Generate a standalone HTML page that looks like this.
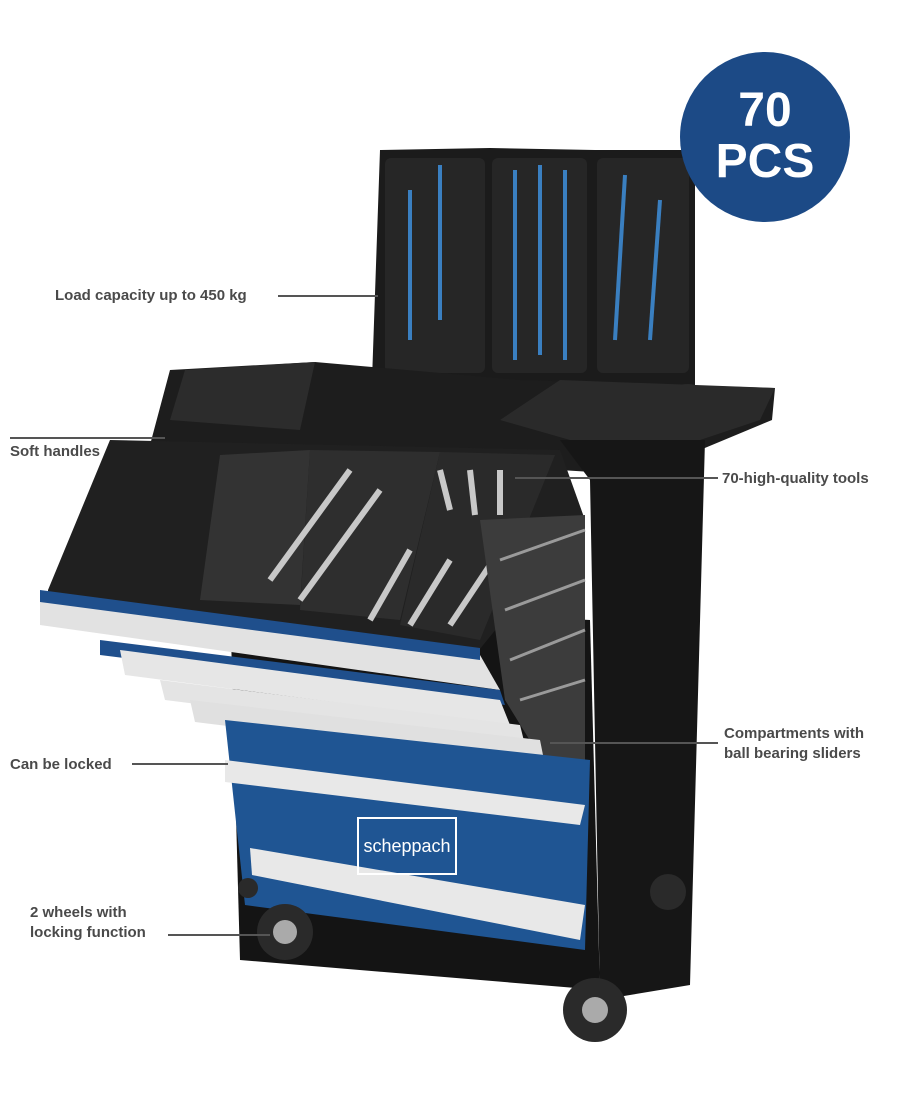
<!DOCTYPE html>
<html><head><meta charset="utf-8"><style>
html,body{margin:0;padding:0;background:#fff;}
body{width:900px;height:1100px;position:relative;overflow:hidden;font-family:"Liberation Sans",sans-serif;}
.l{position:absolute;font-size:15px;font-weight:bold;color:#4a4a4a;line-height:20px;white-space:nowrap;}
</style></head><body>
<svg width="900" height="1100" style="position:absolute;left:0;top:0">
<polygon points="380,150 490,148 595,150 695,150 695,385 372,380" fill="#1b1b1b"/>
<rect x="385" y="158" width="100" height="215" rx="6" fill="#262626"/>
<rect x="492" y="158" width="95" height="215" rx="6" fill="#262626"/>
<rect x="597" y="158" width="92" height="215" rx="6" fill="#262626"/>
<g stroke="#3a7fc0" stroke-width="4">
<line x1="440" y1="165" x2="440" y2="320"/><line x1="410" y1="190" x2="410" y2="340"/>
<line x1="515" y1="170" x2="515" y2="360"/><line x1="540" y1="165" x2="540" y2="355"/><line x1="565" y1="170" x2="565" y2="360"/>
<line x1="625" y1="175" x2="615" y2="340"/><line x1="660" y1="200" x2="650" y2="340"/>
</g>
<circle cx="765" cy="137" r="85" fill="#1c4a86"/>
<text x="765" y="126" fill="#fff" font-family="Liberation Sans" font-weight="bold" font-size="48" text-anchor="middle">70</text>
<text x="765" y="177" fill="#fff" font-family="Liberation Sans" font-weight="bold" font-size="48" text-anchor="middle">PCS</text>
<polygon points="150,445 170,370 315,362 520,380 775,388 772,420 640,475 560,470 165,470" fill="#1d1d1d"/>
<polygon points="170,420 185,370 315,362 300,430" fill="#2c2c2c"/>
<polygon points="500,420 560,380 775,388 760,420 640,460" fill="#2a2a2a"/>
<polygon points="560,440 705,440 690,985 600,1000 590,480" fill="#161616"/>
<polygon points="230,600 590,620 600,990 240,960" fill="#141414"/>
<polygon points="48,590 110,440 560,450 585,520 475,655 48,605" fill="#202020"/>
<polygon points="220,455 310,450 300,605 200,600" fill="#333"/>
<polygon points="310,450 440,452 400,620 300,610" fill="#2e2e2e"/>
<polygon points="440,452 555,455 480,640 400,625" fill="#2a2a2a"/>
<g stroke="#c8c8c8" stroke-width="6">
<line x1="270" y1="580" x2="350" y2="470"/><line x1="300" y1="600" x2="380" y2="490"/>
<line x1="370" y1="620" x2="410" y2="550"/><line x1="410" y1="625" x2="450" y2="560"/><line x1="450" y1="625" x2="490" y2="565"/>
<line x1="440" y1="470" x2="450" y2="510"/><line x1="470" y1="470" x2="475" y2="515"/><line x1="500" y1="470" x2="500" y2="515"/>
</g>
<polygon points="480,520 585,515 585,760 545,765 505,700" fill="#3c3c3c"/>
<g stroke="#9a9a9a" stroke-width="3">
<line x1="500" y1="560" x2="585" y2="530"/><line x1="505" y1="610" x2="585" y2="580"/>
<line x1="510" y1="660" x2="585" y2="630"/><line x1="520" y1="700" x2="585" y2="680"/>
</g>
<polygon points="40,598 480,655 500,690 40,625" fill="#e2e2e2"/>
<polygon points="40,590 480,648 480,660 40,602" fill="#1f4f8c"/>
<polygon points="100,640 500,690 505,705 100,655" fill="#1f4f8c"/>
<polygon points="120,650 500,700 510,725 125,675" fill="#e6e6e6"/>
<polygon points="160,680 520,725 525,745 165,700" fill="#e4e4e4"/>
<polygon points="190,700 540,740 545,765 195,722" fill="#e0e0e0"/>
<polygon points="225,720 590,760 585,950 245,905" fill="#1f5593"/>
<polygon points="225,760 585,805 580,825 225,782" fill="#e8e8e8"/>
<polygon points="250,848 585,905 580,940 252,875" fill="#e8e8e8"/>
<rect x="358" y="818" width="98" height="56" fill="none" stroke="#fff" stroke-width="2"/>
<text x="407" y="852" fill="#fff" font-family="Liberation Sans" font-size="18" text-anchor="middle">scheppach</text>
<circle cx="285" cy="932" r="28" fill="#2a2a2a"/><circle cx="285" cy="932" r="12" fill="#aaa"/>
<circle cx="595" cy="1010" r="32" fill="#2a2a2a"/><circle cx="595" cy="1010" r="13" fill="#aaa"/>
<circle cx="668" cy="892" r="18" fill="#2a2a2a"/>
<circle cx="248" cy="888" r="10" fill="#2a2a2a"/>
<g stroke="#555" stroke-width="2">
<line x1="278" y1="296" x2="378" y2="296"/>
<line x1="10" y1="438" x2="165" y2="438"/>
<line x1="515" y1="478" x2="718" y2="478"/>
<line x1="550" y1="743" x2="718" y2="743"/>
<line x1="132" y1="764" x2="228" y2="764"/>
<line x1="168" y1="935" x2="270" y2="935"/>
</g>
</svg>
<div class="l" style="left:55px;top:286px">Load capacity up to 450 kg</div>
<div class="l" style="left:10px;top:442px">Soft handles</div>
<div class="l" style="left:722px;top:469px">70-high-quality tools</div>
<div class="l" style="left:724px;top:724px">Compartments with<br>ball bearing sliders</div>
<div class="l" style="left:10px;top:755px">Can be locked</div>
<div class="l" style="left:30px;top:903px">2 wheels with<br>locking function</div>
</body></html>
